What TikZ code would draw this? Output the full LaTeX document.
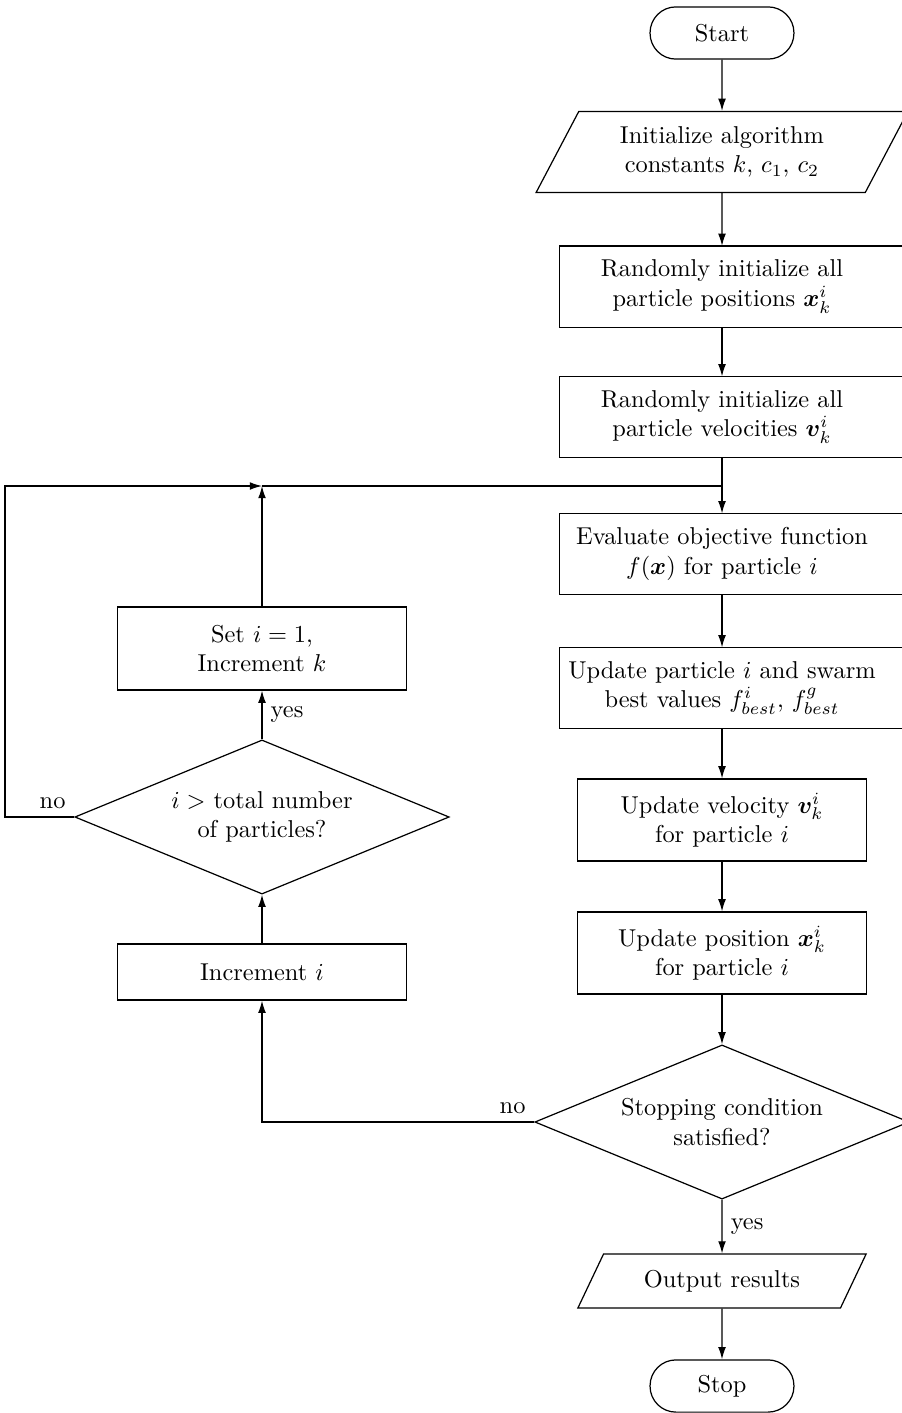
\documentclass[tikz,border=0pt]{standalone}
\usepackage{bm}
\usetikzlibrary{shapes.geometric,arrows.meta}
\tikzstyle{every node}=[align=center]
\tikzstyle{term}=[draw,rectangle,rounded corners=10.6pt,minimum width=59pt,minimum height=21.4pt]
\tikzstyle{io}=[draw,trapezium,trapezium left angle=64,trapezium right angle=116,trapezium stretches=true]
\tikzstyle{proc}=[draw,rectangle,minimum width=118.5pt]
\tikzstyle{widetext}=[rectangle,minimum width=132.8pt,minimum height=32.8pt]
\tikzstyle{decide}=[draw,diamond,inner sep=0pt,aspect=2.4,minimum width=153.5pt,minimum height=63.2pt]

\begin{document}
\begin{tikzpicture}[%
          x=0.41pt,y=-0.41pt,line width=0.5pt,
          >={Latex[length=5pt,width=3.2pt]}]
\useasboundingbox (0,0) rectangle (902,1413);
\clip (0,0) rectangle (902,1413);
\node[term] (start) at (722,33) {Start};
\node[io,minimum width=152.5pt,minimum height=33.2pt] (init) at (722,152) {Initialize algorithm\\constants $k$, $c_1$, $c_2$};
\node[widetext] (rpos) at (722,286.5) {Randomly initialize all\\particle positions $\bm{x}^i_k$};
\node[widetext] (rvel) at (722,417) {Randomly initialize all\\particle velocities $\bm{v}^i_k$};
\node[widetext] (eval) at (722,554) {Evaluate objective function\\$f(\bm{x})$ for particle $i$};
\node[widetext] (best) at (722,688) {Update particle $i$ and swarm\\best values $f^i_{best}$, $f^g_{best}$};
\node[proc,minimum height=33.6pt] (upvel) at (722,820) {Update velocity $\bm{v}^i_k$\\for particle $i$};
\node[proc,minimum height=33.6pt] (uppos) at (722,953) {Update position $\bm{x}^i_k$\\for particle $i$};
\node[decide] (stopc) at (722,1122) {Stopping condition\\satisfied?};
\node[io,minimum width=118.5pt,minimum height=22.1pt] (out) at (722,1281) {Output results};
\node[term] (stop) at (722,1386) {Stop};
\node[decide] (ichk) at (262,817) {$i >$ total number\\of particles?};
\node[proc,minimum height=34pt] (seti) at (262,648.5) {Set $i=1$,\\Increment $k$};
\node[proc,minimum height=23pt] (inci) at (262,972) {Increment $i$};
\coordinate (merge) at (262,486);
\coordinate (back) at (5,486);

\foreach \n in {rpos,rvel,eval,best}
  \draw (\n.north west) rectangle ([xshift=20pt]\n.south east);

\draw[->] (start) -- (init);
\draw[->] (init) -- (rpos);
\draw[->] (rpos) -- (rvel);
\draw[->] (rvel) -- (eval);
\draw[->] (eval) -- (best);
\draw[->] (best) -- (upvel);
\draw[->] (upvel) -- (uppos);
\draw[->] (uppos) -- (stopc);
\draw[->] (stopc) -- node[right] {yes} (out);
\draw[->] (out) -- (stop);
\draw[->] (stopc.west) node[above left] {no} -| (inci);
\draw[->] (inci) -- (ichk);
\draw[->] (ichk) -- node[right] {yes} (seti);
\draw[->] (seti) -- (merge);
\draw[->] (ichk.west) node[above left] {no} -| (back) -- (merge);
\draw (merge) -- (merge -| eval);
\end{tikzpicture}
\end{document}
